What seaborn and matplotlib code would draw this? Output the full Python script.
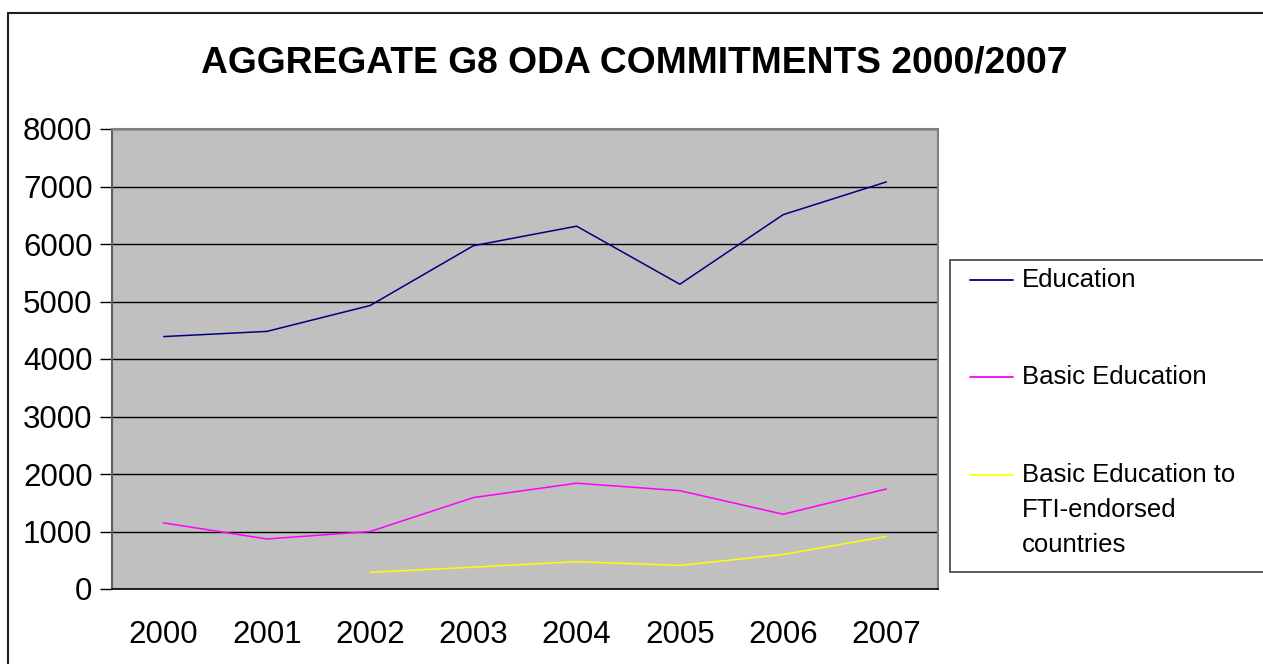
import matplotlib
matplotlib.use("Agg")
import matplotlib.pyplot as plt
import seaborn as sns
import pandas as pd
import numpy as np
from matplotlib.lines import Line2D
from matplotlib.patches import Rectangle

years = [2000, 2001, 2002, 2003, 2004, 2005, 2006, 2007]
education = [4390, 4480, 4930, 5970, 6310, 5300, 6510, 7080]
basic_education = [1150, 870, 1000, 1590, 1840, 1710, 1300, 1740]
fti_years = [2002, 2003, 2004, 2005, 2006, 2007]
fti_basic = [290, 380, 475, 410, 600, 915]

series_names = ["Education", "Basic Education", "Basic Education to\nFTI-endorsed\ncountries"]
colors = ["#000080", "#FF00FF", "#FFFF00"]
title = "AGGREGATE G8 ODA COMMITMENTS 2000/2007"
yticks = [0, 1000, 2000, 3000, 4000, 5000, 6000, 7000, 8000]

df = pd.concat([
    pd.DataFrame({"year": years, "value": education, "series": series_names[0]}),
    pd.DataFrame({"year": years, "value": basic_education, "series": series_names[1]}),
    pd.DataFrame({"year": fti_years, "value": fti_basic, "series": series_names[2]}),
])

sns.set_theme(style="white")
plt.rcParams["font.family"] = ["Liberation Sans", "DejaVu Sans"]
plt.rcParams["text.color"] = "black"
plt.rcParams["xtick.color"] = "black"
plt.rcParams["ytick.color"] = "black"
plt.rcParams["xtick.labelcolor"] = "black"
plt.rcParams["ytick.labelcolor"] = "black"

W, H = 1263, 664
fig = plt.figure(figsize=(W / 100, H / 100), dpi=100)
ax = fig.add_axes([112 / W, 1 - 589 / H, (938 - 112) / W, (589 - 129) / H])
ax.set_facecolor("#C0C0C0")

sns.lineplot(data=df, x="year", y="value", hue="series", palette=colors,
             hue_order=series_names, ax=ax, linewidth=1.1, legend=False,
             estimator=None, sort=False)

ax.set_xlim(years[0] - 0.5, years[-1] + 0.5)
ax.set_ylim(0, 8000)
ax.set_yticks(yticks)
ax.set_yticklabels([str(v) for v in yticks], fontsize=22.5, color="black")
ax.yaxis.grid(True, color="black", linewidth=1.0)
ax.set_axisbelow(True)

# category axis: tick marks at boundaries, labels at centres
ax.set_xticks([y - 0.5 for y in years] + [years[-1] + 0.5])
ax.set_xticklabels([])
ax.set_xticks(years, minor=True)
ax.set_xticklabels([str(y) for y in years], minor=True, fontsize=22.5, color="black")
ax.tick_params(axis="x", which="major", direction="out", length=9, width=1, color="black")
ax.tick_params(axis="x", which="minor", length=0, pad=22)
ax.tick_params(axis="y", direction="out", length=9, width=1, color="black", pad=5,
               left=True)
ax.set_xlabel("")
ax.set_ylabel("")

for side in ["top", "right"]:
    ax.spines[side].set_color("#808080")
    ax.spines[side].set_linewidth(1.5)
ax.spines["left"].set_color("#606060")
ax.spines["left"].set_linewidth(1.5)
ax.spines["bottom"].set_color("black")
ax.spines["bottom"].set_linewidth(1.2)

fig.text(0.5 + 3 / W, 1 - 63 / H, title, ha="center", va="center",
         fontsize=26.8, fontweight="bold", color="black")

# figure border (left and top visible)
fig.add_artist(Line2D([8 / W, 8 / W], [0, 1 - 13 / H], transform=fig.transFigure,
                      color="#202020", linewidth=1.5))
fig.add_artist(Line2D([8 / W, 1], [1 - 13 / H, 1 - 13 / H], transform=fig.transFigure,
                      color="#202020", linewidth=1.5))

# legend box
fig.add_artist(Rectangle((950 / W, 1 - 572 / H), (1270 - 950) / W, (572 - 260) / H,
                         transform=fig.transFigure, facecolor="white",
                         edgecolor="#404040", linewidth=1.2))
legend_y = [280, 377, 475]
for name, col, yy in zip(series_names, colors, legend_y):
    fig.add_artist(Line2D([970 / W, 1013 / W], [1 - yy / H, 1 - yy / H],
                          transform=fig.transFigure, color=col, linewidth=1.3))
    fig.text(1022 / W, 1 - (yy - 12) / H, name, ha="left", va="top", fontsize=18.5,
             linespacing=1.58, color="black")

fig.savefig("out.png", dpi=100)
